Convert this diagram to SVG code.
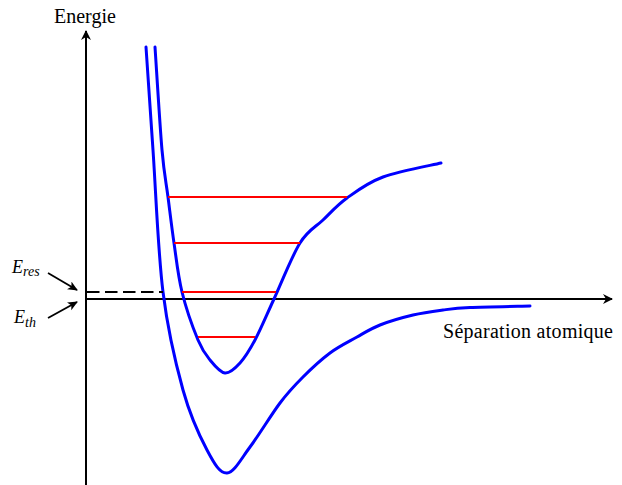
<svg xmlns="http://www.w3.org/2000/svg" width="622" height="485" viewBox="0 0 622 485">
<defs>
<marker id="ah" markerWidth="10" markerHeight="10" refX="9" refY="5" orient="auto" markerUnits="userSpaceOnUse">
<path d="M0,0 L10,5 L0,10 L3,5 Z" fill="#000"/>
</marker>
<marker id="sa" markerWidth="10" markerHeight="10" refX="9" refY="5" orient="auto" markerUnits="userSpaceOnUse">
<path d="M0,0.5 L10,5 L0,9.5 L2.5,5 Z" fill="#000"/>
</marker>
</defs>
<style>
.axis{stroke:#000;stroke-width:2;fill:none}
.curve{stroke:#0000ff;stroke-width:3;fill:none;stroke-linejoin:round;stroke-linecap:round}
.level{stroke:#ff0000;stroke-width:2}
</style>
<rect width="622" height="485" fill="#fff"/>
<g id="axes">
<line class="axis" x1="86" y1="485" x2="86" y2="31" marker-end="url(#ah)"/>
<line class="axis" x1="85" y1="299" x2="612" y2="299" marker-end="url(#ah)"/>
</g>
<g id="curves">
<path id="ground" class="curve" d="M146,47 C147.2,64.2 150.2,109.2 153,150 C155.8,190.8 158,252 163,292 C168,332 175.7,363.7 183,390 C190.3,416.3 199.7,436.2 207,450 C214.3,463.8 219.8,473.5 227,473 C234.2,472.5 241.2,458.7 250,447 C258.8,435.3 271.2,414.7 280,403 C288.8,391.3 294.7,385.3 303,377 C311.3,368.7 321,359.7 330,353 C339,346.3 348.7,341.7 357,337 C365.3,332.3 370.7,328.7 380,325 C389.3,321.3 402.5,317.5 413,315 C423.5,312.5 433.5,311.25 443,310 C452.5,308.75 455.5,308.2 470,307.5 C484.5,306.8 520,306.25 530,306"/>
<path id="excited" class="curve" d="M155,47 C156.2,64.2 159.8,125 162,150 C164.2,175 166,181.5 168,197 C170,212.5 171.7,227.2 174,243 C176.3,258.8 178,275.8 182,292 C186,308.2 193.3,328.7 198,340 C202.7,351.3 205.5,354.5 210,360 C214.5,365.5 220,372.5 225,373 C230,373.5 235,368.5 240,363 C245,357.5 249.3,350.7 255,340 C260.7,329.3 266.5,315.2 274,299 C281.5,282.8 291.8,256.2 300,243 C308.2,229.8 315.2,227.5 323,220 C330.8,212.5 337,205.2 347,198 C357,190.8 367.3,182.8 383,177 C398.7,171.2 431.3,165.3 441,163"/>
</g>
<g id="levels">
<line class="level" x1="168" y1="197" x2="347" y2="197"/>
<line class="level" x1="174" y1="243" x2="300" y2="243"/>
<line class="level" x1="182" y1="292" x2="276" y2="292"/>
<line class="level" x1="198" y1="337" x2="255" y2="337"/>
</g>
<g id="connectors">
<line x1="87" y1="292" x2="163" y2="292" stroke="#000" stroke-width="2" stroke-dasharray="12.5,5.5"/>
<line x1="48" y1="273" x2="77" y2="290" stroke="#000" stroke-width="1.8" marker-end="url(#sa)"/>
<line x1="48" y1="318" x2="77" y2="302" stroke="#000" stroke-width="1.8" marker-end="url(#sa)"/>
</g>
<g id="labels" font-family="Liberation Serif, Times New Roman, serif" fill="#000">
<text x="54" y="23" font-size="20">Energie</text>
<text x="443" y="338" font-size="20" textLength="170" lengthAdjust="spacing">Séparation atomique</text>
<text x="12" y="273" font-size="18" font-style="italic">E<tspan font-size="14" dy="3">res</tspan></text>
<text x="14" y="323" font-size="18" font-style="italic">E<tspan font-size="14" dy="4">th</tspan></text>
</g>
</svg>
